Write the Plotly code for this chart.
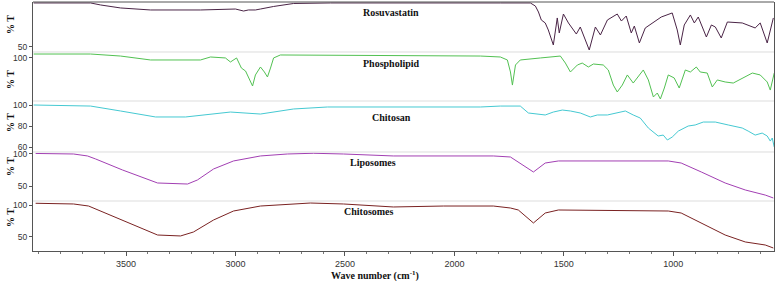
import plotly.graph_objects as go
from plotly.subplots import make_subplots

# ---- data (wavenumber cm-1, %T) ----
rosu_wn = [3922, 3662, 3616, 3525, 3388, 3160, 3000, 2977, 2963, 2941, 2909, 2886, 2826, 2735, 2566,
           1790, 1653, 1630, 1616, 1603, 1585, 1571, 1548, 1530, 1521, 1502, 1479, 1443, 1425, 1384,
           1356, 1333, 1301, 1256, 1237, 1215, 1192, 1178, 1155, 1128, 1100, 1055, 1005, 982, 968,
           950, 922, 904, 886, 849, 826, 808, 781, 753, 685, 626, 603, 571, 543]
rosu_t = [99.9, 99.9, 97.6, 94.2, 91.9, 91.9, 93.0, 91.9, 90.7, 91.9, 91.9, 93.0, 95.9, 99.3, 99.9,
          99.9, 99.9, 96.4, 89.6, 80.5, 77.1, 69.1, 52.0, 82.8, 65.7, 87.3, 77.1, 64.5, 72.5, 46.3,
          72.5, 63.4, 80.5, 87.3, 79.3, 85.0, 65.7, 73.6, 54.3, 71.4, 75.9, 83.9, 88.5, 69.1, 52.0,
          74.8, 86.2, 77.1, 83.9, 61.1, 74.8, 72.5, 60.0, 78.2, 77.1, 71.4, 77.1, 54.3, 82.8]

phos_wn = [3922, 3662, 3525, 3388, 3160, 3114, 3046, 3023, 2995, 2973, 2954, 2936, 2922, 2909, 2886,
           2868, 2854, 2840, 2826, 2795, 1881, 1790, 1758, 1744, 1735, 1721, 1699, 1607, 1516, 1493,
           1470, 1438, 1416, 1388, 1365, 1320, 1297, 1274, 1256, 1233, 1210, 1183, 1137, 1114, 1091,
           1073, 1059, 1041, 1023, 996, 973, 945, 922, 895, 877, 845, 822, 799, 763, 726, 685, 639,
           603, 571, 557, 539]
phos_t = [103.9, 103.9, 101.8, 97.7, 97.7, 100.8, 99.8, 95.6, 99.8, 89.3, 86.2, 76.9, 70.6, 82.1, 90.4,
          85.2, 80.0, 89.3, 99.8, 102.9, 101.8, 100.8, 97.7, 85.2, 71.6, 92.5, 97.7, 99.8, 101.8, 94.5,
          85.2, 92.5, 94.5, 90.4, 93.5, 92.5, 87.3, 71.6, 64.4, 71.6, 82.1, 73.7, 87.3, 76.9, 59.2,
          63.3, 57.1, 68.5, 82.1, 79.0, 68.5, 87.3, 85.2, 90.4, 85.2, 84.1, 69.6, 76.9, 74.8, 73.7, 78.9, 84.1,
          82.1, 74.8, 66.4, 84.1]

chit_wn = [3922, 3662, 3525, 3365, 3228, 3023, 2886, 2826, 2735, 2580, 1881, 1790, 1699, 1662, 1621,
           1585, 1548, 1507, 1470, 1425, 1379, 1347, 1301, 1256, 1219, 1183, 1151, 1114, 1069, 1046,
           1027, 1005, 977, 932, 900, 863, 808, 749, 685, 658, 626, 594, 571, 557, 548, 539]
chit_t = [100.0, 99.0, 94.3, 88.6, 88.6, 93.3, 91.4, 93.3, 96.2, 98.1, 98.1, 99.0, 99.0, 92.4, 91.4,
          90.5, 93.3, 95.2, 94.3, 92.4, 88.6, 90.5, 90.5, 92.4, 94.3, 90.5, 87.6, 78.1, 70.5, 71.4,
          66.7, 69.5, 75.2, 80.0, 81.0, 83.8, 83.8, 81.0, 78.1, 75.2, 71.4, 73.3, 70.5, 65.7, 68.6, 60.0]

lipo_wn = [3913, 3740, 3676, 3639, 3516, 3356, 3219, 3174, 3100, 3009, 2886, 2763, 2644, 2507, 2279,
           1822, 1744, 1708, 1639, 1585, 1525, 1023, 964, 872, 763, 671, 580, 543]
lipo_t = [100.8, 100.0, 96.9, 92.2, 75.0, 54.7, 53.1, 59.4, 76.6, 89.1, 96.9, 100.0, 101.1, 100.0, 96.9,
          96.9, 95.3, 87.5, 71.9, 85.9, 89.1, 89.1, 85.9, 71.9, 54.7, 43.8, 35.9, 31.3]

chso_wn = [3913, 3740, 3671, 3516, 3356, 3251, 3192, 3100, 3009, 2886, 2658, 2507, 2279, 2050, 1822,
           1744, 1708, 1639, 1585, 1525, 1023, 964, 854, 763, 671, 580, 543]
chso_t = [102.7, 101.6, 98.4, 76.0, 53.1, 51.6, 57.8, 76.6, 90.6, 98.4, 103.1, 101.6, 96.9, 98.4, 98.4,
          95.3, 92.2, 71.9, 87.5, 92.2, 90.6, 87.5, 68.8, 53.1, 42.2, 37.5, 32.8]

names = ["Rosuvastatin", "Phospholipid", "Chitosan", "Liposomes", "Chitosomes"]
x_ticks = [3500, 3000, 2500, 2000, 1500, 1000]

series = [(rosu_wn, rosu_t), (phos_wn, phos_t), (chit_wn, chit_t), (lipo_wn, lipo_t), (chso_wn, chso_t)]
colors = ["#4a2446", "#52c152", "#45c9d2", "#a23fb3", "#7a2222"]
y_ranges = [[44, 101], [55, 106], [55.3, 103.8], [26.6, 103.1], [28.1, 106.25]]
y_ticks = [[50], [100], [100, 80, 60], [100, 50], [100, 50]]
domains = [[0.7992, 1.0], [0.6024, 0.7992], [0.3976, 0.6024], [0.2008, 0.3976], [0.0, 0.2008]]
label_pos = [(2288, 0.956), (2288, 0.755), (2288, 0.538), (2374, 0.357), (2388, 0.157)]
pt_pos = [0.9076, 0.6867, 0.514, 0.337, 0.1325]

fig = make_subplots(rows=5, cols=1, shared_xaxes=True, vertical_spacing=0)

serif = "Liberation Serif"
for i, ((wn, t), c) in enumerate(zip(series, colors)):
    r = i + 1
    fig.add_trace(go.Scatter(x=wn, y=t, mode="lines", line=dict(color=c, width=1),
                             name=names[i], showlegend=False), row=r, col=1)
    fig.update_yaxes(range=y_ranges[i], domain=domains[i], tickvals=y_ticks[i], automargin=False,
                     showgrid=False, zeroline=False, showline=True, mirror=True,
                     linecolor="#555", linewidth=1, ticks="outside", ticklen=3,
                     tickcolor="#555", tickfont=dict(family="Arial, Liberation Sans", size=8.5, color="#333"),
                     row=r, col=1)
    fig.update_xaxes(range=[3925, 540], showgrid=False, zeroline=False, automargin=False, row=r, col=1)
    fig.add_annotation(x=label_pos[i][0], xref="x", y=label_pos[i][1], yref="paper",
                       xanchor="center", yanchor="middle",
                       text="<b>%s</b>" % names[i], showarrow=False,
                       font=dict(family=serif, size=10, color="#111"))
    fig.add_annotation(x=0, xref="paper", xshift=-23, y=pt_pos[i], yref="paper",
                       xanchor="center", yanchor="middle",
                       text="<b>% T</b>", textangle=-90, showarrow=False,
                       font=dict(family=serif, size=10, color="#111"))

for r in range(1, 5):
    fig.update_xaxes(showticklabels=False, ticks="", showline=False, row=r, col=1)

fig.update_xaxes(tickvals=x_ticks, ticks="outside", ticklen=4, tickcolor="#555",
                 showline=True, linecolor="#555", linewidth=1,
                 minor=dict(dtick=100, ticks="outside", ticklen=2, tickcolor="#777", showgrid=False),
                 tickfont=dict(family="Arial, Liberation Sans", size=9, color="#333"),
                 row=5, col=1)

fig.add_annotation(x=2361, xref="x5", y=-0.0964, yref="paper", xanchor="center", yanchor="middle",
                   text="<b>Wave number (cm<sup>-1</sup>)</b>", showarrow=False,
                   font=dict(family=serif, size=10, color="#111"))

# panel separators and top frame
for yb in [0.2008, 0.3976, 0.6024, 0.7992]:
    fig.add_shape(type="line", xref="paper", yref="paper", x0=0, x1=1, y0=yb, y1=yb,
                  line=dict(color="#dddddd", width=1))
fig.add_shape(type="line", xref="paper", yref="paper", x0=0, x1=1, y0=1, y1=1,
              line=dict(color="#555", width=1))

fig.update_layout(width=778, height=281, margin=dict(l=33, r=4, t=2, b=30),
                  paper_bgcolor="white", plot_bgcolor="white", showlegend=False)

fig.write_html("out.html", config={"displayModeBar": False},
               post_script="document.body.style.margin='0px';")
